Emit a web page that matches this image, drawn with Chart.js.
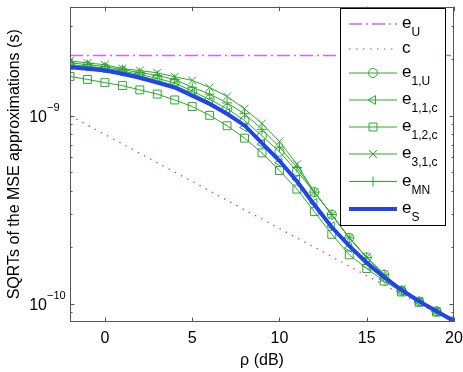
<!DOCTYPE html>
<html>
<head>
<meta charset="utf-8">
<script src="https://cdn.jsdelivr.net/npm/chart.js@4"></script>
<style>html,body{margin:0;padding:0;background:#fff;}</style>
</head>
<body>
<canvas id="chart" width="463" height="372"></canvas>
<script>
// rho in dB
const rho = [-2,-1,0,1,2,3,4,5,6,7,8,9,10,11,12,13,14,15,16,17,18,19,20];

// SQRTs of the MSE approximations (s)
const eU = [2.09e-9,2.09e-9,2.09e-9,2.09e-9,2.09e-9,2.09e-9,2.09e-9,2.09e-9,2.09e-9,2.09e-9,2.09e-9,2.09e-9,
  2.09e-9,2.09e-9,2.09e-9,2.09e-9,2.09e-9,2.09e-9,2.09e-9,2.09e-9,2.09e-9,2.09e-9,2.09e-9];
const cBound = [1.0e-9,8.91e-10,7.94e-10,7.08e-10,6.31e-10,5.62e-10,5.01e-10,4.47e-10,3.98e-10,3.55e-10,3.16e-10,
  2.82e-10,2.51e-10,2.24e-10,2.0e-10,1.78e-10,1.58e-10,1.41e-10,1.26e-10,1.12e-10,1.0e-10,8.91e-11,7.94e-11];
const e1U = [1.866e-9,1.832e-9,1.789e-9,1.726e-9,1.655e-9,1.577e-9,1.494e-9,1.349e-9,1.219e-9,1.088e-9,9.42e-10,
  7.82e-10,6.42e-10,5.08e-10,3.92e-10,2.98e-10,2.24e-10,1.764e-10,1.428e-10,1.173e-10,1.028e-10,9.12e-11,8.09e-11];
const e11c = [1.854e-9,1.822e-9,1.778e-9,1.705e-9,1.625e-9,1.54e-9,1.45e-9,1.318e-9,1.183e-9,1.037e-9,8.66e-10,
  7.06e-10,5.62e-10,4.59e-10,3.44e-10,2.58e-10,1.98e-10,1.6e-10,1.35e-10,1.17e-10,1.024e-10,9.08e-11,8.09e-11];
const e12c = [1.615e-9,1.558e-9,1.498e-9,1.445e-9,1.371e-9,1.302e-9,1.212e-9,1.118e-9,1.004e-9,8.84e-10,7.59e-10,
  6.34e-10,5.11e-10,4.07e-10,3.09e-10,2.34e-10,1.82e-10,1.54e-10,1.32e-10,1.155e-10,1.018e-10,9.03e-11,8.09e-11];
const e31c = [1.957e-9,1.905e-9,1.866e-9,1.778e-9,1.736e-9,1.689e-9,1.61e-9,1.54e-9,1.411e-9,1.266e-9,1.088e-9,
  9.08e-10,7.3e-10,5.51e-10,3.92e-10,2.97e-10,2.24e-10,1.764e-10,1.433e-10,1.197e-10,1.037e-10,9.14e-11,8.09e-11];
const eMN = [1.911e-9,1.866e-9,1.822e-9,1.757e-9,1.695e-9,1.635e-9,1.558e-9,1.416e-9,1.302e-9,1.169e-9,1.024e-9,
  8.46e-10,6.81e-10,5.3e-10,3.92e-10,2.98e-10,2.24e-10,1.76e-10,1.43e-10,1.18e-10,1.03e-10,9.12e-11,8.09e-11];
const eS = [1.81e-9,1.778e-9,1.736e-9,1.669e-9,1.591e-9,1.498e-9,1.411e-9,1.276e-9,1.155e-9,1.024e-9,8.87e-10,
  7.15e-10,5.76e-10,4.48e-10,3.36e-10,2.55e-10,2.03e-10,1.655e-10,1.383e-10,1.183e-10,1.031e-10,9.12e-11,8.09e-11];

const xTicks = [0, 5, 10, 15, 20];
const yMajorTicks = [1e-10, 1e-9];
const yMajorLabels = [['10', '\u221210'], ['10', '\u22129']];
const yMinorTicks = [9e-11, 2e-10, 3e-10, 4e-10, 5e-10, 6e-10, 7e-10, 8e-10, 9e-10, 2e-9, 3e-9];

const legendItems = [
  { main: 'e', sub: 'U' },
  { main: 'c', sub: '' },
  { main: 'e', sub: '1,U' },
  { main: 'e', sub: '1,1,c' },
  { main: 'e', sub: '1,2,c' },
  { main: 'e', sub: '3,1,c' },
  { main: 'e', sub: 'MN' },
  { main: 'e', sub: 'S' }
];

const green = '#2fa82f';
const FONT = '"Liberation Sans", Arial, Helvetica, sans-serif';

function greenSet(data, style, radius, rot) {
  return {
    data: data,
    borderColor: green,
    borderWidth: 1,
    pointStyle: style,
    pointRadius: radius,
    pointRotation: rot || 0,
    pointBorderColor: green,
    pointBackgroundColor: 'rgba(0,0,0,0)',
    pointBorderWidth: 1,
    order: 2
  };
}

const datasets = [
  { data: eU, borderColor: '#cc66ff', borderWidth: 1.5, borderDash: [13, 4, 2, 4], pointRadius: 0, order: 3 },
  { data: cBound, borderColor: '#ff3333', borderWidth: 1.2, borderDash: [1.5, 5.5], pointRadius: 0, order: 3 },
  greenSet(e1U, 'circle', 4.5),
  greenSet(e11c, 'triangle', 5, -90),
  greenSet(e12c, 'rect', 5.6),
  greenSet(e31c, 'crossRot', 5.6),
  greenSet(eMN, 'cross', 5),
  { data: eS, borderColor: '#2343f0', borderWidth: 4, pointRadius: 0, order: 1 }
];

const decorations = {
  id: 'decorations',
  afterDraw(chart) {
    const ctx = chart.ctx;
    const a = chart.chartArea;
    const xs = chart.scales.x, ys = chart.scales.y;
    ctx.save();

    // axes box
    ctx.strokeStyle = '#555';
    ctx.lineWidth = 1;
    ctx.strokeRect(Math.round(a.left) + 0.5, Math.round(a.top) + 0.5,
      Math.round(a.right - a.left) - 1, Math.round(a.bottom - a.top) - 1);

    // inward ticks
    ctx.beginPath();
    xTicks.forEach(v => {
      const px = Math.round(xs.getPixelForValue(v)) + 0.5;
      ctx.moveTo(px, a.bottom); ctx.lineTo(px, a.bottom - 4.5);
      ctx.moveTo(px, a.top); ctx.lineTo(px, a.top + 4.5);
    });
    yMajorTicks.forEach(v => {
      const py = Math.round(ys.getPixelForValue(v)) + 0.5;
      ctx.moveTo(a.left, py); ctx.lineTo(a.left + 4.5, py);
      ctx.moveTo(a.right, py); ctx.lineTo(a.right - 4.5, py);
    });
    yMinorTicks.forEach(v => {
      const py = Math.round(ys.getPixelForValue(v)) + 0.5;
      ctx.moveTo(a.left, py); ctx.lineTo(a.left + 2.5, py);
      ctx.moveTo(a.right, py); ctx.lineTo(a.right - 2.5, py);
    });
    ctx.stroke();

    // x tick labels
    ctx.fillStyle = '#000';
    ctx.font = '16px ' + FONT;
    ctx.textAlign = 'center';
    ctx.textBaseline = 'alphabetic';
    xTicks.forEach(v => {
      ctx.fillText(String(v), xs.getPixelForValue(v), a.bottom + 21);
    });

    // y tick labels with superscripts
    yMajorTicks.forEach((v, i) => {
      const py = ys.getPixelForValue(v);
      const [base, exp] = yMajorLabels[i];
      ctx.font = '16px ' + FONT;
      ctx.textAlign = 'right';
      ctx.fillText(base, 47, py + 6);
      ctx.font = '11px ' + FONT;
      ctx.textAlign = 'left';
      ctx.fillText(exp, 47, py - 5);
    });

    // axis titles
    ctx.font = '16px ' + FONT;
    ctx.textAlign = 'center';
    ctx.fillText('\u03c1 (dB)', (a.left + a.right) / 2, 365);
    ctx.save();
    ctx.translate(19, (a.top + a.bottom) / 2);
    ctx.rotate(-Math.PI / 2);
    ctx.fillText('SQRTs of the MSE approximations (s)', 0, 0);
    ctx.restore();

    // legend
    const lx = 340.5, ly = 8.5, lw = 105, lh = 217;
    ctx.fillStyle = '#fff';
    ctx.fillRect(lx, ly, lw, lh);
    ctx.strokeStyle = '#000';
    ctx.lineWidth = 1;
    ctx.strokeRect(lx, ly, lw, lh);
    const rows = [24, 49, 73, 100, 127, 154, 181.5, 209];
    legendItems.forEach((item, i) => {
      const ds = chart.data.datasets[i];
      const y = rows[i];
      ctx.save();
      ctx.strokeStyle = ds.borderColor;
      ctx.lineWidth = ds.borderWidth;
      ctx.setLineDash(ds.borderDash || []);
      ctx.beginPath();
      ctx.moveTo(349, y); ctx.lineTo(397, y);
      ctx.stroke();
      ctx.setLineDash([]);
      if (ds.pointRadius) {
        ctx.lineWidth = 1;
        ctx.strokeStyle = ds.pointBorderColor;
        ctx.fillStyle = 'rgba(0,0,0,0)';
        Chart.helpers.drawPoint(ctx, {
          pointStyle: ds.pointStyle, radius: ds.pointRadius,
          rotation: ds.pointRotation || 0, borderWidth: 1
        }, 373, y);
      }
      ctx.restore();
      ctx.fillStyle = '#000';
      ctx.textAlign = 'left';
      ctx.font = '17px ' + FONT;
      ctx.fillText(item.main, 402, y + 4);
      const mw = ctx.measureText(item.main).width;
      if (item.sub) {
        ctx.font = '12px ' + FONT;
        ctx.fillText(item.sub, 402 + mw, y + 12);
      }
    });
    ctx.restore();
  }
};

new Chart(document.getElementById('chart').getContext('2d'), {
  type: 'line',
  data: { labels: rho, datasets: datasets },
  options: {
    responsive: false,
    animation: false,
    devicePixelRatio: 1,
    layout: { padding: { left: 0, right: 9, top: 1, bottom: 0 } },
    plugins: { legend: { display: false }, tooltip: { enabled: false } },
    elements: { line: { tension: 0 } },
    scales: {
      x: {
        type: 'linear', min: -2, max: 20,
        grid: { display: false }, border: { display: false },
        ticks: { display: false },
        afterFit(scale) { scale.height = 50; }
      },
      y: {
        type: 'logarithmic', min: 8e-11, max: 3.8e-9,
        grid: { display: false }, border: { display: false },
        ticks: { display: false },
        afterFit(scale) { scale.width = 70; }
      }
    }
  },
  plugins: [decorations]
});
</script>
</body>
</html>
